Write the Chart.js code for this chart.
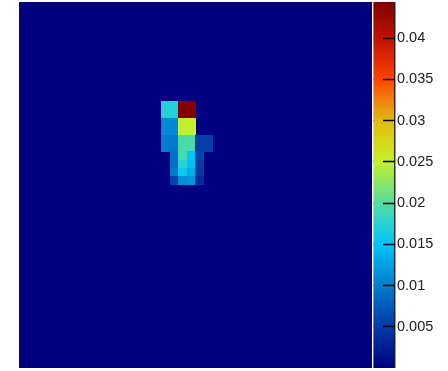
<!DOCTYPE html>
<html>
<head>
<meta charset="utf-8">
<script src="https://cdn.jsdelivr.net/npm/chart.js@4.4.0/dist/chart.umd.min.js"></script>
<style>
  html, body { margin: 0; padding: 0; background: #fff; }
  #wrap { width: 448px; height: 371px; }
</style>
</head>
<body>
<div id="wrap"><canvas id="heat"></canvas></div>
<script>
// grid is 42 x 44 cells, everything outside the window below is zero
const nCols = 42;
const nRows = 44;

// window of non-zero cells (row index counted from the top)
const windowCols = [17, 18, 19, 20, 21, 22];
const windowRows = [12, 13, 14, 15, 16, 17, 18, 19, 20, 21];
const zRows = [
    [0.0172, 0.0172, 0.0444, 0.0444, 0,      0],
    [0.0172, 0.0172, 0.0444, 0.0444, 0,      0],
    [0.0108, 0.0108, 0.0250, 0.0250, 0,      0],
    [0.0108, 0.0108, 0.0250, 0.0250, 0,      0],
    [0.0098, 0.0098, 0.0195, 0.0195, 0.0052, 0.0052],
    [0.0098, 0.0098, 0.0195, 0.0195, 0.0052, 0.0052],
    [0,      0.0092, 0.0192, 0.0152, 0.0058, 0],
    [0,      0.0090, 0.0175, 0.0148, 0.0050, 0],
    [0,      0.0098, 0.0158, 0.0135, 0.0045, 0],
    [0,      0.0055, 0.0112, 0.0118, 0.0035, 0]
];

const zMax = 0.0444;
const cbTicks = [0.005, 0.01, 0.015, 0.02, 0.025, 0.03, 0.035, 0.04];

// jet-like palette
const stopValues = [0, 0.0025, 0.005, 0.0075, 0.01, 0.0125, 0.015, 0.0175, 0.02,
                    0.0225, 0.025, 0.0275, 0.03, 0.0325, 0.035, 0.0375, 0.04, 0.0444];
const stopColors = [
    [0, 0, 128], [0, 30, 145], [5, 60, 165], [0, 90, 185], [0, 125, 205],
    [0, 160, 228], [0, 195, 245], [40, 210, 210], [85, 220, 160], [140, 230, 100],
    [195, 240, 45], [215, 215, 25], [225, 185, 20], [240, 130, 15], [250, 70, 0],
    [225, 40, 0], [190, 20, 0], [128, 0, 0]
];

function colorFor(v) {
    if (v <= stopValues[0]) return rgb(stopColors[0]);
    for (let i = 1; i < stopValues.length; i++) {
        if (v <= stopValues[i]) {
            const t = (v - stopValues[i - 1]) / (stopValues[i] - stopValues[i - 1]);
            const a = stopColors[i - 1], b = stopColors[i];
            return rgb([0, 1, 2].map(k => Math.round(a[k] + (b[k] - a[k]) * t)));
        }
    }
    return rgb(stopColors[stopColors.length - 1]);
}

function rgb(c) {
    return `rgb(${c[0]},${c[1]},${c[2]})`;
}

const cells = [];
windowRows.forEach((r, i) => {
    windowCols.forEach((c, j) => {
        if (zRows[i][j] > 0) cells.push({ x: c, y: r, v: zRows[i][j] });
    });
});

function drawColorbar(chart, x0, x1) {
    const ctx = chart.ctx;
    const cb = chart.scales.cb;
    const yBot = cb.getPixelForValue(0);
    const yTop = cb.getPixelForValue(zMax);
    const grad = ctx.createLinearGradient(0, yBot, 0, yTop);
    stopValues.forEach((v, i) => grad.addColorStop(v / zMax, rgb(stopColors[i])));
    ctx.fillStyle = grad;
    ctx.fillRect(x0, yTop, x1 - x0, yBot - yTop);
}

const heatmapPlugin = {
    id: 'heatmap',
    beforeDraw(chart) {
        const area = chart.chartArea;
        drawColorbar(chart, area.right + 1.5, area.right + 22.5);
    },
    beforeDatasetsDraw(chart) {
        const ctx = chart.ctx;
        const area = chart.chartArea;
        const xs = chart.scales.x;
        const ys = chart.scales.y;
        ctx.save();
        ctx.fillStyle = colorFor(0);
        ctx.fillRect(area.left, area.top, area.right - area.left, area.bottom - area.top);
        chart.data.datasets[0].data.forEach(d => {
            const x0 = xs.getPixelForValue(d.x);
            const x1 = xs.getPixelForValue(d.x + 1);
            const y0 = ys.getPixelForValue(d.y);
            const y1 = ys.getPixelForValue(d.y + 1);
            ctx.fillStyle = colorFor(d.v);
            ctx.fillRect(Math.floor(x0), Math.floor(y0),
                Math.ceil(x1) - Math.floor(x0), Math.ceil(y1) - Math.floor(y0));
        });
        ctx.restore();
    },
    afterDatasetsDraw(chart) {
        // cover the left part of the colour bar ticks, then the frame line
        const ctx = chart.ctx;
        const area = chart.chartArea;
        const cb = chart.scales.cb;
        ctx.save();
        ctx.fillStyle = '#ffffff';
        ctx.fillRect(area.right, area.top, 1.5, area.bottom - area.top);
        drawColorbar(chart, area.right + 1.5, area.right + 11);
        ctx.strokeStyle = '#000000';
        ctx.lineWidth = 1.2;
        ctx.beginPath();
        ctx.moveTo(area.right + 22.8, cb.getPixelForValue(0));
        ctx.lineTo(area.right + 22.8, cb.getPixelForValue(zMax));
        ctx.stroke();
        ctx.restore();
    }
};

new Chart(document.getElementById('heat'), {
    type: 'scatter',
    data: {
        datasets: [{
            data: cells,
            pointRadius: 0,
            pointHoverRadius: 0
        }]
    },
    options: {
        responsive: true,
        maintainAspectRatio: false,
        animation: false,
        events: [],
        layout: { padding: { left: 19, top: 2, bottom: 3, right: 0 } },
        plugins: {
            legend: { display: false },
            tooltip: { enabled: false }
        },
        scales: {
            x: { type: 'linear', min: 0, max: nCols, display: false },
            y: { type: 'linear', min: 0, max: nRows, reverse: true, display: false },
            cb: {
                type: 'linear',
                position: 'right',
                min: 0,
                max: zMax,
                afterBuildTicks: axis => { axis.ticks = cbTicks.map(v => ({ value: v })); },
                afterFit: axis => {
                    axis.width = 76;
                    axis.paddingTop = 0;
                    axis.paddingBottom = 0;
                },
                border: { display: false },
                grid: {
                    drawOnChartArea: false,
                    tickLength: 23,
                    tickColor: '#000000',
                    tickWidth: 1.5
                },
                ticks: {
                    padding: 2,
                    color: '#222222',
                    font: { family: 'Liberation Sans, Arial, sans-serif', size: 14.5 },
                    callback: v => String(v)
                }
            }
        }
    },
    plugins: [heatmapPlugin]
});
</script>
</body>
</html>
